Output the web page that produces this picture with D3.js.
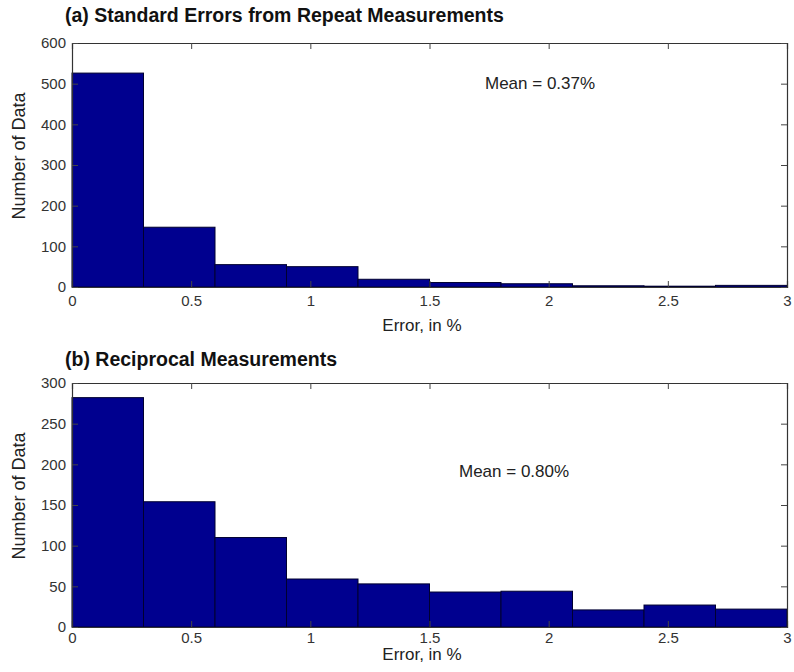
<!DOCTYPE html>
<html>
<head>
<meta charset="utf-8">
<script src="https://cdn.jsdelivr.net/npm/d3@7"></script>
<style>
  html, body { margin: 0; padding: 0; background: #fff; }
  svg { display: block; font-family: "Liberation Sans", Arial, sans-serif; }
</style>
</head>
<body>
<svg id="chart" width="794" height="672"></svg>
<script>
// Histogram bins (error in %), width 0.3
const binEdges = [0, 0.3, 0.6, 0.9, 1.2, 1.5, 1.8, 2.1, 2.4, 2.7, 3.0];

// (a) standard errors from repeat measurements
const countsA = [526, 147, 55, 50, 19, 11, 8, 3, 2, 4];
const yTicksA = [0, 100, 200, 300, 400, 500, 600];
const meanA = "Mean = 0.37%";

// (b) reciprocal measurements
const countsB = [282, 154, 110, 59, 53, 43, 44, 21, 27, 22];
const yTicksB = [0, 50, 100, 150, 200, 250, 300];
const meanB = "Mean = 0.80%";

const xTicks = [0, 0.5, 1, 1.5, 2, 2.5, 3];

const svg = d3.select("#chart");

function panel(cfg) {
  const x = d3.scaleLinear().domain([0, 3]).range([72, 787]);
  const y = d3.scaleLinear().domain([0, cfg.yMax]).range([cfg.bottom, cfg.top]);
  const g = svg.append("g");

  // bars
  const bins = cfg.counts.map((c, i) => ({ x0: binEdges[i], x1: binEdges[i + 1], c }));
  g.selectAll("rect.bar").data(bins).join("rect")
    .attr("class", "bar")
    .attr("x", d => x(d.x0))
    .attr("width", d => x(d.x1) - x(d.x0))
    .attr("y", d => y(d.c))
    .attr("height", d => y(0) - y(d.c))
    .attr("fill", "#00008f")
    .attr("stroke", "#000030")
    .attr("stroke-width", 1);

  // axes: ticks point inward, box on all four sides
  const tick = 6;
  const bottomAx = d3.axisBottom(x).tickValues(xTicks).tickSize(-tick).tickPadding(cfg.xPad)
    .tickFormat(d3.format(""));
  const topAx = d3.axisTop(x).tickValues(xTicks).tickSize(-tick).tickFormat("");
  const leftAx = d3.axisLeft(y).tickValues(cfg.yTicks).tickSize(-tick).tickPadding(6);
  const rightAx = d3.axisRight(y).tickValues(cfg.yTicks).tickSize(-tick).tickFormat("");

  const axes = [
    g.append("g").attr("transform", `translate(0,${cfg.bottom})`).call(bottomAx),
    g.append("g").attr("transform", `translate(0,${cfg.top})`).call(topAx),
    g.append("g").attr("transform", `translate(72,0)`).call(leftAx),
    g.append("g").attr("transform", `translate(787,0)`).call(rightAx)
  ];
  axes.forEach(a => {
    a.select(".domain").attr("stroke", "#333").attr("stroke-width", 1.2);
    a.selectAll(".tick line").attr("stroke", "#444");
    a.selectAll(".tick text").attr("fill", "#333").attr("font-size", 15)
      .attr("font-family", "Liberation Sans, Arial, sans-serif");
  });

  // title
  svg.append("text")
    .attr("x", 65).attr("y", cfg.titleY)
    .attr("font-size", 19.5).attr("font-weight", "bold").attr("fill", "#111")
    .text(cfg.title);

  // axis labels
  svg.append("text")
    .attr("x", 422).attr("y", cfg.xLabelY)
    .attr("text-anchor", "middle").attr("font-size", 17).attr("fill", "#222")
    .text("Error, in %");
  svg.append("text")
    .attr("transform", `translate(25,${(cfg.top + cfg.bottom) / 2 - 9}) rotate(-90)`)
    .attr("text-anchor", "middle").attr("font-size", 18).attr("fill", "#222")
    .text("Number of Data");

  // mean annotation
  svg.append("text")
    .attr("x", cfg.meanX).attr("y", cfg.meanY)
    .attr("font-size", 17).attr("fill", "#222")
    .text(cfg.mean);
}

panel({ counts: countsA, yMax: 600, yTicks: yTicksA, top: 43, bottom: 287, xPad: 8,
        title: "(a) Standard Errors from Repeat Measurements", titleY: 22,
        xLabelY: 331, mean: meanA, meanX: 485, meanY: 89 });
panel({ counts: countsB, yMax: 300, yTicks: yTicksB, top: 383, bottom: 627, xPad: 5,
        title: "(b) Reciprocal Measurements", titleY: 366,
        xLabelY: 660, mean: meanB, meanX: 459, meanY: 477 });
</script>
</body>
</html>
